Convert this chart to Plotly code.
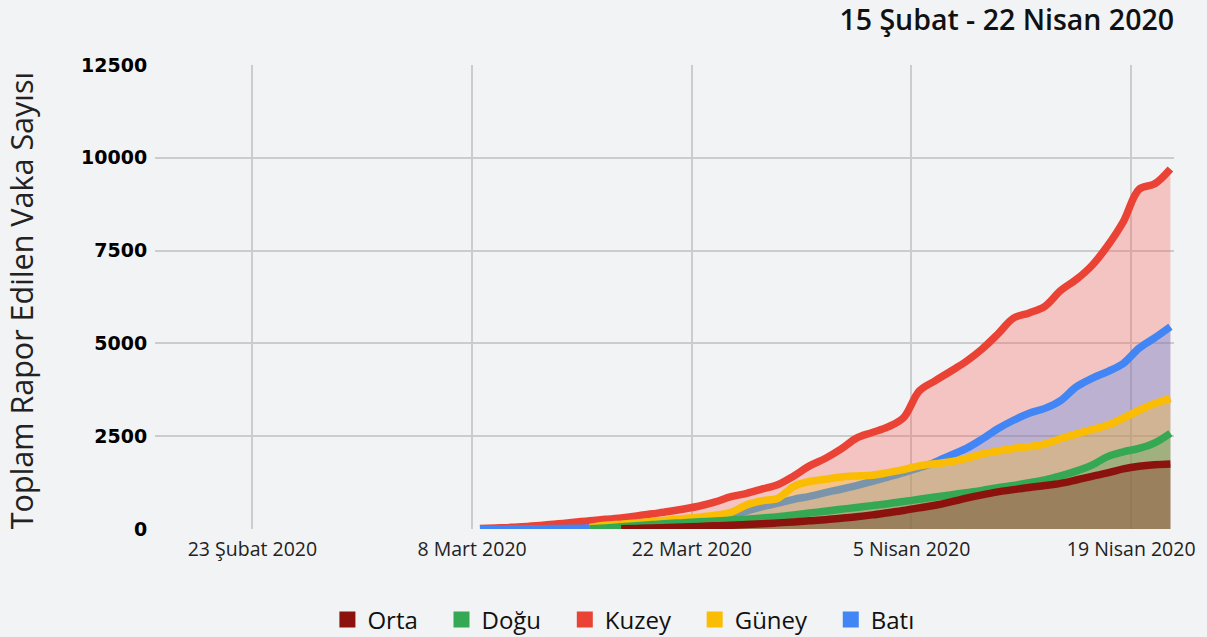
import plotly.graph_objects as go

dates = ["2020-03-%02d" % d for d in range(9, 32)] + ["2020-04-%02d" % d for d in range(1, 23)]

orta = [None]*9 + [5, 15, 25, 40, 55, 70, 85, 100, 120, 140, 165, 190, 220, 250, 290, 330, 380, 440, 500,
                   570, 640, 730, 830, 920, 1000, 1060, 1120, 1170, 1230, 1320, 1420, 1510, 1620, 1690, 1730, 1750]
dogu = [None]*7 + [5, 30, 60, 90, 120, 150, 170, 195, 215, 240, 265, 295, 330, 380, 430, 480, 530, 580, 630,
                   680, 740, 800, 860, 920, 980, 1040, 1110, 1170, 1250, 1320, 1430, 1560, 1720, 1950, 2080, 2170,
                   2320, 2580]
kuzey = [15, 30, 45, 70, 100, 140, 180, 225, 260, 300, 350, 410, 470, 540, 620, 730, 870, 960, 1080, 1200,
         1430, 1700, 1900, 2150, 2450, 2600, 2750, 3000, 3720, 3990, 4250, 4520, 4850, 5250, 5680, 5820, 6000,
         6420, 6720, 7100, 7630, 8280, 9150, 9300, 9700]
guney = [None]*7 + [40, 100, 130, 165, 200, 240, 280, 320, 370, 450, 650, 760, 830, 1150, 1280,
                    1340, 1400, 1430, 1450, 1520, 1600, 1700, 1760, 1810, 1900, 2020, 2100, 2170, 2220, 2290,
                    2430, 2560, 2680, 2800, 2990, 3200, 3380, 3520]
bati = [2, 3, 4, 6, 9, 13, 18, 25, 40, 60, 90, 120, 150, 180, 220, 270, 350, 480, 600, 700, 800, 880,
        980, 1070, 1170, 1280, 1400, 1520, 1650, 1800, 1990, 2170, 2420, 2700, 2930, 3120, 3250, 3460, 3830,
        4060, 4240, 4460, 4870, 5150, 5450]

names = ["Orta", "Doğu", "Kuzey", "Güney", "Batı"]
colors = {"Orta": "#8C120E", "Doğu": "#34A853", "Kuzey": "#EA4335", "Güney": "#FBBC04", "Batı": "#4285F4"}
fills = {"Orta": "rgba(140,18,14,0.3)", "Doğu": "rgba(52,168,83,0.3)", "Kuzey": "rgba(244,88,76,0.3)",
         "Güney": "rgba(251,188,4,0.3)", "Batı": "rgba(66,133,244,0.3)"}
series = {"Orta": orta, "Doğu": dogu, "Kuzey": kuzey, "Güney": guney, "Batı": bati}
draw_order = ["Kuzey", "Batı", "Güney", "Doğu", "Orta"]

tick_vals = ["2020-02-23 12:00", "2020-03-08 12:00", "2020-03-22 12:00", "2020-04-05 12:00", "2020-04-19 12:00"]
tick_text = ["23 Şubat 2020", "8 Mart 2020", "22 Mart 2020", "5 Nisan 2020", "19 Nisan 2020"]
y_ticks = [0, 2500, 5000, 7500, 10000, 12500]

fig = go.Figure()
for nm in draw_order:
    fig.add_trace(go.Scatter(x=dates, y=series[nm], mode="lines", name=nm,
                             line=dict(color=colors[nm], width=7.5, shape="spline", smoothing=1.0),
                             fill="tozeroy", fillcolor=fills[nm], showlegend=False, hoverinfo="skip"))
NBSP = "\u00a0"
for nm in names:
    fig.add_trace(go.Scatter(x=[None], y=[None], mode="markers", name=nm + NBSP * 3,
                             marker=dict(symbol="square", size=17, color=colors[nm]), showlegend=True))

BG = "#F2F3F5"
fig.update_layout(
    width=1207, height=637, paper_bgcolor=BG, plot_bgcolor=BG,
    margin=dict(l=155, r=33, t=65, b=108, autoexpand=False),
    font=dict(family="Open Sans", color="#222222"),
    title=dict(text="15 Şubat - 22 Nisan 2020", x=0.9727, xanchor="right", xref="container",
               y=0.968, yanchor="middle", font=dict(size=28.5, color="#111111", family="Open Sans", weight=600)),
    legend=dict(orientation="h", x=0.469, xanchor="center", y=-0.196, yanchor="middle",
                font=dict(size=24, color="#111111"), traceorder="normal", itemsizing="trace"),
    showlegend=True,
    annotations=[dict(text="Toplam Rapor Edilen Vaka Sayısı", textangle=-90, xref="paper", yref="paper",
                      x=-0.1315, y=0.491, xanchor="center", yanchor="middle", showarrow=False,
                      font=dict(size=30.5, color="#222222", family="Open Sans"))],
)
fig.update_xaxes(type="date", range=["2020-02-17 07:00", "2020-04-22 05:30"], tickmode="array",
                 tickvals=tick_vals, ticktext=tick_text, showgrid=True, gridcolor="#CCCCCC", gridwidth=2,
                 zeroline=False, showline=False, ticks="outside", ticklen=3, tickcolor="rgba(0,0,0,0)",
                 tickfont=dict(size=19.5, color="#222222", family="Open Sans"))
fig.update_yaxes(range=[0, 12500], tickmode="array", tickvals=y_ticks, ticktext=[str(v) for v in y_ticks],
                 showgrid=True, gridcolor="#CCCCCC", gridwidth=2, zeroline=False, showline=False,
                 ticks="outside", ticklen=3, tickcolor="rgba(0,0,0,0)",
                 tickfont=dict(size=19, color="#000000", family="DejaVu Sans", weight="bold"))

fig.write_html("out.html", config={"displayModeBar": False},
               post_script="document.body.style.margin='0';document.body.style.overflow='hidden';")
